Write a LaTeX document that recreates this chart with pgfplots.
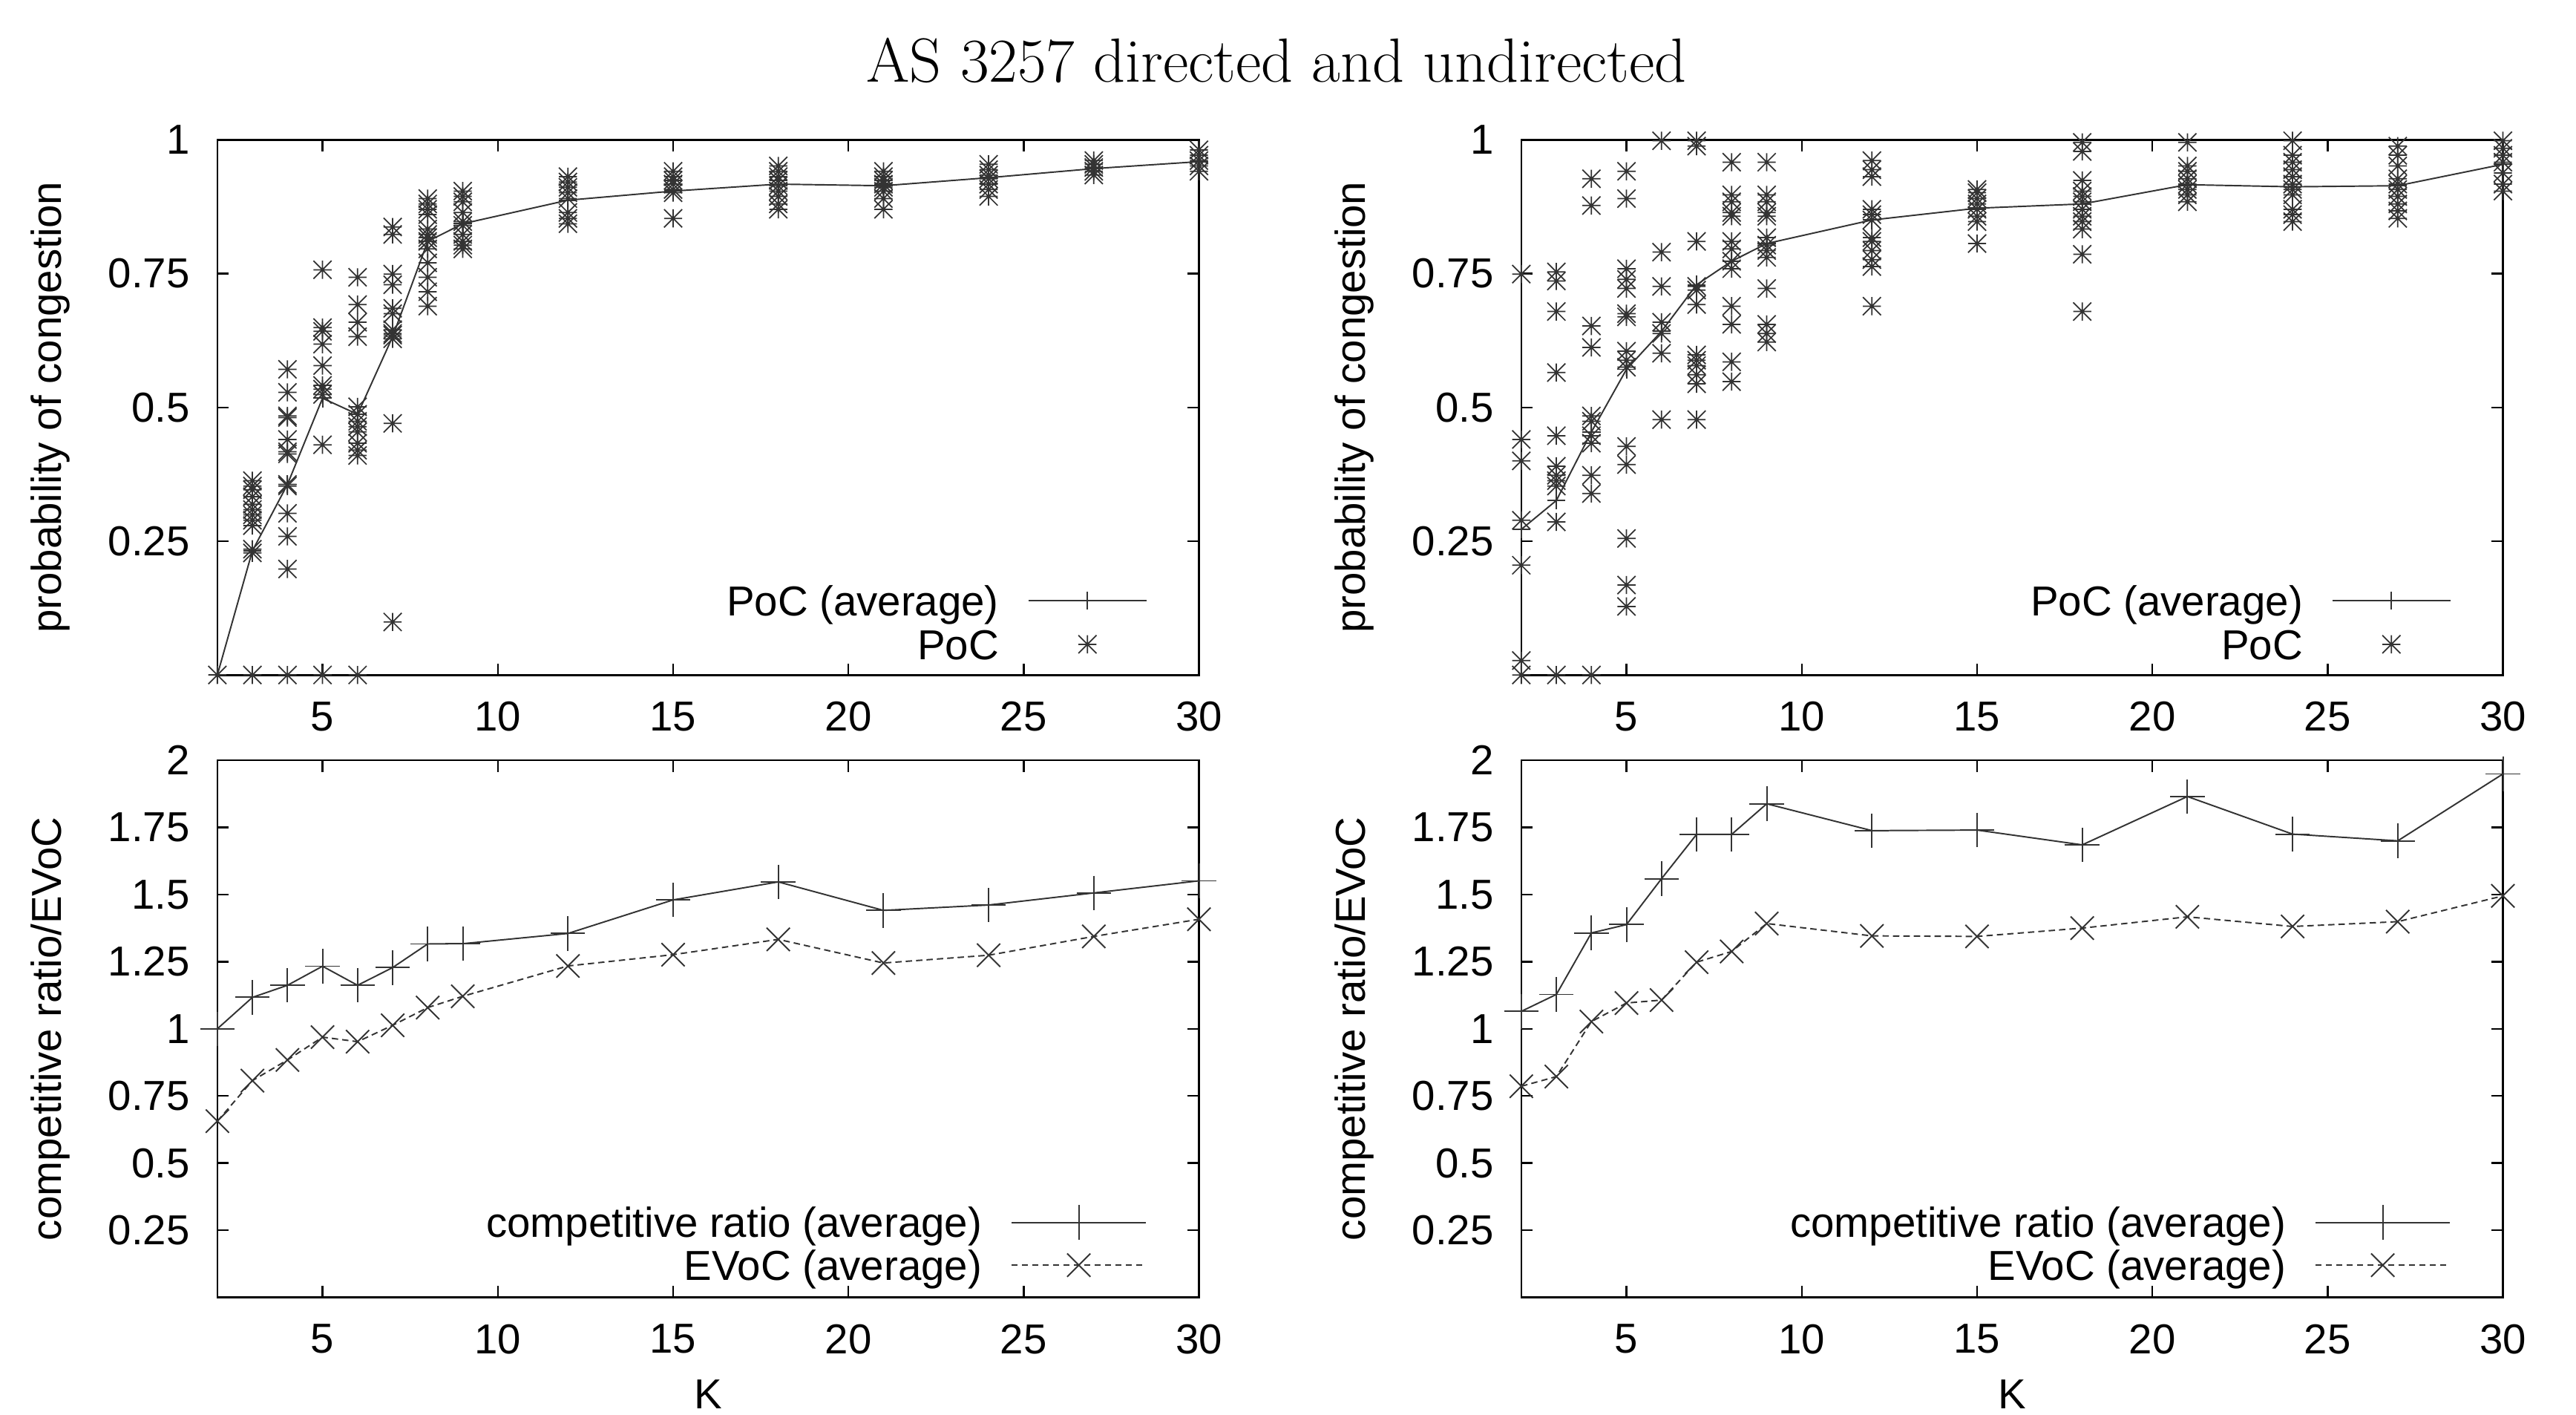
\documentclass[border=0pt]{standalone}
\usepackage{fontspec}
\setsansfont{Liberation Sans}
\usepackage{pgfplots}
\pgfplotsset{compat=1.18}

% gnuplot-style "*" mark: a + and an x on top of each other
\pgfdeclareplotmark{gpstar}{%
  \pgfpathmoveto{\pgfqpoint{-\pgfplotmarksize}{0pt}}%
  \pgfpathlineto{\pgfqpoint{\pgfplotmarksize}{0pt}}%
  \pgfpathmoveto{\pgfqpoint{0pt}{-\pgfplotmarksize}}%
  \pgfpathlineto{\pgfqpoint{0pt}{\pgfplotmarksize}}%
  \pgfpathmoveto{\pgfqpoint{-\pgfplotmarksize}{-\pgfplotmarksize}}%
  \pgfpathlineto{\pgfqpoint{\pgfplotmarksize}{\pgfplotmarksize}}%
  \pgfpathmoveto{\pgfqpoint{-\pgfplotmarksize}{\pgfplotmarksize}}%
  \pgfpathlineto{\pgfqpoint{\pgfplotmarksize}{-\pgfplotmarksize}}%
  \pgfusepathqstroke}

\newcommand\lab{\sffamily\fontsize{14.5}{17}\selectfont}
\colorlet{gpline}{black!80}

\pgfplotsset{
  gp/.style={
    scale only axis, width=11.95cm,
    xmin=2, xmax=30,
    xtick={5,10,15,20,25,30}, xticklabels={5,10,15,20,25,30},
    tick align=inside, major tick length=0.14cm,
    axis line style={line width=0.7pt},
    every tick/.style={black, line width=0.6pt},
    clip=false,
    tick label style={font=\lab},
    xticklabel style={anchor=north, inner sep=0pt, yshift=-0.32cm},
    yticklabel style={anchor=east, inner sep=0pt, xshift=-0.33cm},
    every axis y label/.style={at={(axis description cs:-0.170,0.5)}, rotate=90, anchor=center, font=\lab},
    every axis x label/.style={at={(axis description cs:0.5,0)}, anchor=north, inner sep=0pt, yshift=-1.0cm, font=\lab},
    legend plot pos=right,
    legend cell align=right,
    legend style={draw=none, fill=none, inner sep=0pt, column sep=0.35cm, font=\lab,
      nodes={inner sep=0pt, text height=10.4pt, text depth=0pt}},
  },
  gptop/.style={gp, height=6.514cm, ymin=0, ymax=1,
    ytick={0.25,0.5,0.75,1}, yticklabels={0.25,0.5,0.75,1},
    ylabel={probability of congestion},
    legend style={at={(axis description cs:0.948,0.098)}, anchor=east, row sep=4.7pt},
    legend image code/.code={\draw[mark repeat=2,mark phase=2,##1] plot coordinates {(0cm,0cm) (0.72cm,0cm) (1.44cm,0cm)};},
  },
  gpbot/.style={gp, height=6.536cm, ymin=0, ymax=2,
    ytick={0.25,0.5,0.75,1,1.25,1.5,1.75,2},
    yticklabels={0.25,0.5,0.75,1,1.25,1.5,1.75,2},
    ylabel={competitive ratio/EVoC}, xlabel={K},
    legend style={at={(axis description cs:0.9475,0.1017)}, anchor=east, row sep=3.6pt},
    legend image code/.code={\draw[mark repeat=2,mark phase=2,##1] plot coordinates {(0cm,0cm) (0.82cm,0cm) (1.64cm,0cm)};},
  },
  avgline/.style={gpline, line width=0.5pt, mark=+, mark size=0.11cm, mark options={solid, line width=0.5pt}},
  scat/.style={only marks, gpline, mark=gpstar, mark size=0.11cm, mark options={line width=0.45pt}},
  crline/.style={gpline, line width=0.5pt, mark=+, mark size=0.21cm, mark options={solid, line width=0.5pt}},
  evline/.style={gpline, line width=0.5pt, dash pattern=on 2.2pt off 1.4pt, mark=x, mark size=0.2cm, mark options={solid, line width=0.5pt}},
}

\begin{document}
\begin{tikzpicture}

\node[anchor=base, font=\fontsize{21.6}{26}\selectfont] at (15.54cm,-0.994cm) {AS 3257 directed and undirected};

% ---------------- top left: directed PoC ----------------
\begin{axis}[gptop, at={(2.646cm,-8.214cm)}, anchor=south west]
\addplot[avgline] coordinates {
  (2,0) (3,0.232) (4,0.356) (5,0.517) (6,0.487) (7,0.632) (8,0.81) (9,0.843)
  (12,0.887) (15,0.904) (18,0.917) (21,0.914) (24,0.929) (27,0.946) (30,0.959)};
\addlegendentry{PoC (average)}
\addplot[scat] coordinates {
  (2,0)
  (3,0.363) (3,0.353) (3,0.346) (3,0.333) (3,0.319) (3,0.309) (3,0.299) (3,0.289) (3,0.279) (3,0.235) (3,0.228) (3,0)
  (4,0.571) (4,0.528) (4,0.484) (4,0.481) (4,0.440) (4,0.417) (4,0.413) (4,0.356) (4,0.353) (4,0.302) (4,0.259) (4,0.198) (4,0)
  (5,0.757) (5,0.649) (5,0.642) (5,0.618) (5,0.578) (5,0.541) (5,0.534) (5,0.524) (5,0.430) (5,0)
  (6,0.743) (6,0.692) (6,0.659) (6,0.632) (6,0.501) (6,0.487) (6,0.474) (6,0.464) (6,0.454) (6,0.433) (6,0.420) (6,0.410) (6,0)
  (7,0.837) (7,0.823) (7,0.749) (7,0.729) (7,0.685) (7,0.675) (7,0.645) (7,0.638) (7,0.635) (7,0.628) (7,0.470) (7,0.099)
  (8,0.890) (8,0.880) (8,0.870) (8,0.860) (8,0.833) (8,0.823) (8,0.817) (8,0.810) (8,0.796) (8,0.770) (8,0.743) (8,0.716) (8,0.689)
  (9,0.904) (9,0.894) (9,0.884) (9,0.864) (9,0.847) (9,0.840) (9,0.823) (9,0.810) (9,0.803) (9,0.796)
  (12,0.931) (12,0.921) (12,0.911) (12,0.901) (12,0.890) (12,0.864) (12,0.853) (12,0.843)
  (15,0.941) (15,0.931) (15,0.924) (15,0.917) (15,0.907) (15,0.901) (15,0.853)
  (18,0.951) (18,0.941) (18,0.931) (18,0.924) (18,0.914) (18,0.904) (18,0.894) (18,0.880) (18,0.870)
  (21,0.941) (21,0.931) (21,0.924) (21,0.917) (21,0.911) (21,0.904) (21,0.890) (21,0.870)
  (24,0.954) (24,0.944) (24,0.934) (24,0.927) (24,0.917) (24,0.907) (24,0.894)
  (27,0.961) (27,0.954) (27,0.948) (27,0.941) (27,0.934)
  (30,0.981) (30,0.971) (30,0.961) (30,0.951) (30,0.941)};
\addlegendentry{PoC}
\end{axis}

% ---------------- top right: undirected PoC ----------------
\begin{axis}[gptop, at={(18.52cm,-8.214cm)}, anchor=south west]
\addplot[avgline] coordinates {
  (2,0.272) (3,0.326) (4,0.454) (5,0.571) (6,0.642) (7,0.729) (8,0.773) (9,0.806)
  (12,0.850) (15,0.872) (18,0.880) (21,0.916) (24,0.912) (27,0.914) (30,0.954)};
\addlegendentry{PoC (average)}
\addplot[scat] coordinates {
  (2,0.749) (2,0.440) (2,0.400) (2,0.289) (2,0.205) (2,0.027) (2,0)
  (3,0.753) (3,0.736) (3,0.679) (3,0.565) (3,0.447) (3,0.390) (3,0.373) (3,0.363) (3,0.353) (3,0.286) (3,0)
  (4,0.927) (4,0.877) (4,0.652) (4,0.612) (4,0.484) (4,0.474) (4,0.447) (4,0.433) (4,0.373) (4,0.339) (4,0)
  (5,0.941) (5,0.890) (5,0.759) (5,0.739) (5,0.722) (5,0.675) (5,0.669) (5,0.605) (5,0.588) (5,0.575) (5,0.427) (5,0.393) (5,0.255) (5,0.168) (5,0.128)
  (6,0.998) (6,0.790) (6,0.726) (6,0.659) (6,0.638) (6,0.601) (6,0.477)
  (7,0.998) (7,0.988) (7,0.810) (7,0.726) (7,0.719) (7,0.692) (7,0.598) (7,0.588) (7,0.578) (7,0.561) (7,0.544) (7,0.477)
  (8,0.958) (8,0.897) (8,0.884) (8,0.864) (8,0.857) (8,0.810) (8,0.796) (8,0.773) (8,0.759) (8,0.689) (8,0.655) (8,0.585) (8,0.548)
  (9,0.958) (9,0.897) (9,0.884) (9,0.864) (9,0.857) (9,0.817) (9,0.803) (9,0.793) (9,0.780) (9,0.722) (9,0.655) (9,0.638) (9,0.622)
  (12,0.961) (12,0.944) (12,0.931) (12,0.870) (12,0.860) (12,0.850) (12,0.817) (12,0.810) (12,0.793) (12,0.776) (12,0.763) (12,0.689)
  (15,0.907) (15,0.901) (15,0.890) (15,0.880) (15,0.870) (15,0.857) (15,0.847) (15,0.806)
  (18,0.995) (18,0.978) (18,0.924) (18,0.904) (18,0.894) (18,0.884) (18,0.870) (18,0.857) (18,0.847) (18,0.833) (18,0.786) (18,0.679)
  (21,0.995) (21,0.951) (21,0.941) (21,0.927) (21,0.917) (21,0.907) (21,0.897) (21,0.884)
  (24,0.998) (24,0.971) (24,0.958) (24,0.944) (24,0.931) (24,0.917) (24,0.907) (24,0.897) (24,0.870) (24,0.860) (24,0.847)
  (27,0.988) (27,0.971) (27,0.951) (27,0.927) (27,0.917) (27,0.907) (27,0.894) (27,0.880) (27,0.867) (27,0.853)
  (30,0.998) (30,0.984) (30,0.971) (30,0.958) (30,0.938) (30,0.917) (30,0.904)};
\addlegendentry{PoC}
\end{axis}

% ---------------- bottom left: directed ratios ----------------
\begin{axis}[gpbot, at={(2.646cm,-15.788cm)}, anchor=south west]
\addplot[crline] coordinates {
  (2,1.0) (3,1.117) (4,1.162) (5,1.233) (6,1.162) (7,1.228) (8,1.316) (9,1.317)
  (12,1.355) (15,1.480) (18,1.547) (21,1.441) (24,1.461) (27,1.506) (30,1.551)};
\addlegendentry{competitive ratio (average)}
\addplot[evline] coordinates {
  (2,0.656) (3,0.807) (4,0.884) (5,0.969) (6,0.952) (7,1.013) (8,1.079) (9,1.121)
  (12,1.234) (15,1.276) (18,1.333) (21,1.245) (24,1.274) (27,1.344) (30,1.408)};
\addlegendentry{EVoC (average)}
\end{axis}

% ---------------- bottom right: undirected ratios ----------------
\begin{axis}[gpbot, at={(18.52cm,-15.788cm)}, anchor=south west]
\addplot[crline] coordinates {
  (2,1.065) (3,1.128) (4,1.357) (5,1.388) (6,1.559) (7,1.724) (8,1.724) (9,1.838)
  (12,1.738) (15,1.740) (18,1.685) (21,1.865) (24,1.725) (27,1.700) (30,1.949)};
\addlegendentry{competitive ratio (average)}
\addplot[evline] coordinates {
  (2,0.786) (3,0.822) (4,1.027) (5,1.096) (6,1.107) (7,1.248) (8,1.288) (9,1.392)
  (12,1.346) (15,1.344) (18,1.375) (21,1.417) (24,1.381) (27,1.399) (30,1.495)};
\addlegendentry{EVoC (average)}
\end{axis}

\pgfresetboundingbox
\useasboundingbox (0,0) rectangle (31.36cm,-17.22cm);
\end{tikzpicture}
\end{document}
